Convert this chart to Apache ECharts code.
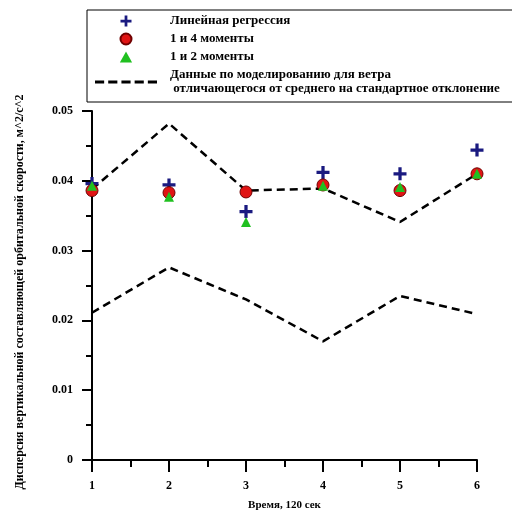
<!DOCTYPE html>
<html>
<head>
<meta charset="utf-8">
<script src="https://cdn.jsdelivr.net/npm/echarts@6/dist/echarts.min.js"></script>
<style>
html, body { margin: 0; padding: 0; background: #fff; }
#main { width: 512px; height: 516px; }
</style>
</head>
<body>
<div id="main"></div>
<script>
// данные
var times = [1, 2, 3, 4, 5, 6];
var regression = [0.0396, 0.0394, 0.0356, 0.0412, 0.0410, 0.0444];
var moments14 = [0.0386, 0.0383, 0.0384, 0.0394, 0.0386, 0.0410];
var moments12 = [0.0393, 0.0377, 0.0341, 0.0393, 0.0391, 0.0410];
var modelUpper = [0.0388, 0.0482, 0.0386, 0.0389, 0.0341, 0.0410];
var modelLower = [0.0211, 0.0276, 0.0230, 0.0170, 0.0235, 0.0209];

var names = ['Линейная регрессия', '1 и 4 моменты', '1 и 2 моменты',
	'Данные по моделированию для ветра\n отличающегося от среднего на стандартное отклонение'];

function pairs(vals) {
	return times.map(function (t, i) { return [t, vals[i]]; });
}

var font = '"Liberation Serif", "Times New Roman", serif';
var crossPath = 'path://M4.5,0H7.5V4.5H12V7.5H7.5V12H4.5V7.5H0V4.5H4.5Z';
var trianglePath = 'path://M5,0L10,9H0Z';
// пунктир для легенды
var dashPath = 'path://M0,0h9v3h-9z M13,0h9v3h-9z M26,0h9v3h-9z M39,0h9v3h-9z M52,0h9v3h-9z';
var myChart = echarts.init(document.getElementById('main'));
var dashStyle = { color: '#000', width: 2.5, type: [8, 5] };

option = {
	animation: false,
	textStyle: { fontFamily: font, color: '#000' },
	legend: {
		orient: 'vertical',
		left: 87,
		top: 10,
		padding: [4, 20, 6, 8],
		itemGap: 4,
		itemWidth: 62,
		itemHeight: 11,
		symbolKeepAspect: true,
		borderColor: '#000',
		borderWidth: 1,
		backgroundColor: '#fff',
		textStyle: { fontFamily: font, fontWeight: 'bold', fontSize: 13, color: '#000', lineHeight: 14, padding: [0, 0, 0, 8] },
		data: [
			{ name: names[0], icon: crossPath },
			{ name: names[1], icon: 'circle' },
			{ name: names[2], icon: trianglePath },
			{ name: names[3], icon: dashPath, itemStyle: { color: '#000' } }
		]
	},
	grid: { left: 92, right: 35, top: 111, bottom: 50 },
	xAxis: {
		type: 'value',
		min: 1, max: 6, interval: 1,
		name: 'Время, 120 сек',
		nameLocation: 'middle',
		nameGap: 40,
		nameTextStyle: { fontFamily: font, fontWeight: 'bold', fontSize: 11, color: '#000' },
		axisLine: { lineStyle: { color: '#000', width: 2 } },
		axisTick: { length: 12, lineStyle: { width: 2 } },
		minorTick: { show: true, splitNumber: 2, length: 7, lineStyle: { color: '#000', width: 2 } },
		axisLabel: { margin: 20, fontFamily: font, fontWeight: 'bold', fontSize: 12, color: '#000' },
		splitLine: { show: false }
	},
	yAxis: {
		type: 'value',
		min: 0, max: 0.05, interval: 0.01,
		name: 'Дисперсия вертикальной составляющей орбитальной скорости, м^2/с^2',
		nameLocation: 'middle',
		nameGap: 66,
		nameTextStyle: { fontFamily: font, fontWeight: 'bold', fontSize: 12, color: '#000', padding: [0, 13, 0, 0] },
		axisLine: { show: true, lineStyle: { color: '#000', width: 2 } },
		axisTick: { show: true, length: 10, lineStyle: { width: 2 } },
		minorTick: { show: true, splitNumber: 2, length: 6, lineStyle: { color: '#000', width: 2 } },
		axisLabel: { margin: 19, fontFamily: font, fontWeight: 'bold', fontSize: 12, color: '#000' },
		splitLine: { show: false }
	},
	series: [{
		name: names[3],
		type: 'line',
		data: pairs(modelUpper),
		symbol: 'none',
		lineStyle: dashStyle,
		itemStyle: { color: '#000' },
		z: 1
	}, {
		name: names[3],
		type: 'line',
		data: pairs(modelLower),
		symbol: 'none',
		lineStyle: dashStyle,
		itemStyle: { color: '#000' },
		z: 1
	}, {
		name: names[0],
		type: 'scatter',
		data: pairs(regression),
		symbol: crossPath,
		symbolSize: 13,
		itemStyle: { color: '#1a1a80', opacity: 1 },
		z: 2
	}, {
		name: names[1],
		type: 'scatter',
		data: pairs(moments14),
		symbol: 'circle',
		symbolSize: 12,
		itemStyle: { color: '#e01414', borderColor: '#700000', borderWidth: 1, opacity: 1 },
		z: 3
	}, {
		name: names[2],
		type: 'scatter',
		data: pairs(moments12),
		symbol: 'triangle',
		symbolSize: 10,
		symbolKeepAspect: true,
		itemStyle: { color: '#20c020', opacity: 1 },
		z: 4
	}]
};
myChart.setOption(option);
</script>
</body>
</html>
